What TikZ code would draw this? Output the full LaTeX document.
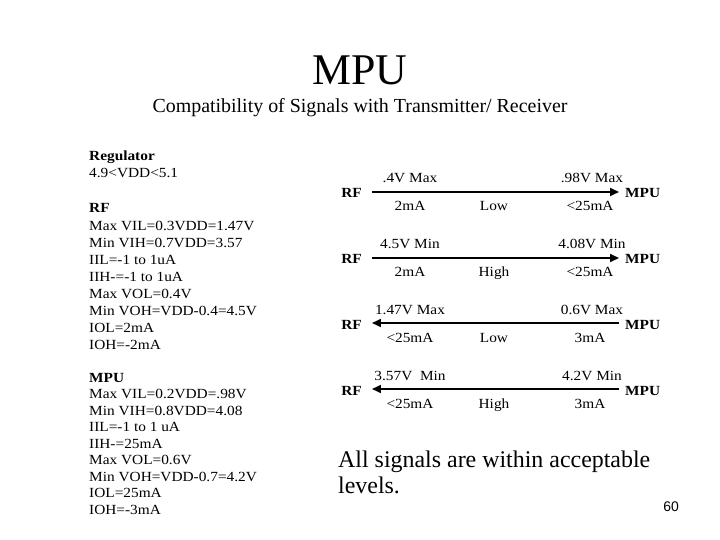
\documentclass[tikz,border=0pt]{standalone}
\usepackage{fontspec}
\setmainfont{Liberation Serif}
\newfontfamily\widef[FakeStretch=1.1]{Liberation Serif}
\newfontfamily\sansf{Liberation Sans}
\usetikzlibrary{arrows.meta}
\begin{document}
\begin{tikzpicture}[x=1bp,y=-1bp,
  lbl/.style={inner sep=0pt,anchor=base,font=\widef\fontsize{14}{15}\selectfont},
  end/.style={inner sep=0pt,font=\widef\fontsize{14}{15}\selectfont\bfseries},
  sig/.style={line width=1.6pt,-{Triangle[length=9pt,width=8pt]}},
  col/.style={inner sep=0pt,anchor=base west,font=\widef\fontsize{14}{17}\selectfont}]
\useasboundingbox (0,0) rectangle (720,540);
\node[inner sep=0pt,font=\fontsize{44}{48}\selectfont] (title) at (360,70) {MPU};
\node[inner sep=0pt,font=\fontsize{20}{24}\selectfont] (sub) at (360,108) {Compatibility of Signals with Transmitter/ Receiver};
\node[col] (reg) at (89,161) {\textbf{Regulator}};
\node[col] (regv) at (89,178) {4.9<VDD<5.1};
\node[col] (rfh) at (89,213) {\textbf{RF}};
\foreach \t [count=\k] in {Max VIL=0.3VDD=1.47V,Min VIH=0.7VDD=3.57,IIL=-1 to 1uA,IIH-=-1 to 1uA,Max VOL=0.4V,Min VOH=VDD-0.4=4.5V,IOL=2mA,IOH=-2mA}
  \node[col] (rfl\k) at (89,213+17.1*\k) {\t};
\node[col] (mph) at (89,382) {\textbf{MPU}};
\foreach \t [count=\k] in {Max VIL=0.2VDD=.98V,Min VIH=0.8VDD=4.08,IIL=-1 to 1 uA,IIH-=25mA,Max VOL=0.6V,Min VOH=VDD-0.7=4.2V,IOL=25mA,IOH=-3mA}
  \node[col] (mpl\k) at (89,382+16.5*\k) {\t};
% rows
\foreach \i/\y/\a/\b/\c/\d/\e in {1/192/.4V Max/.98V Max/2mA/Low/<25mA,2/258/4.5V Min/4.08V Min/2mA/High/<25mA,3/323/1.47V Max/0.6V Max/<25mA/Low/3mA,4/389/3.57V\ \ Min/4.2V Min/<25mA/High/3mA}{
  \node[end,anchor=base east] (rf\i) at (362,\y+6) {RF};
  \node[end,anchor=base west] (mp\i) at (625,\y+6) {MPU};
  \coordinate (l\i) at (372,\y);
  \coordinate (r\i) at (619,\y);
  \node[lbl] (a\i) at (410,\y-9) {\a};
  \node[lbl] (b\i) at (592,\y-9) {\b};
  \node[lbl] (c\i) at (410,\y+19) {\c};
  \node[lbl] (d\i) at (494,\y+19) {\d};
  \node[lbl] (e\i) at (590,\y+19) {\e};
}
\draw[sig] (l1) -- (r1);
\draw[sig] (l2) -- (r2);
\draw[sig] (r3) -- (l3);
\draw[sig] (r4) -- (l4);
\node[inner sep=0pt,anchor=north west,align=left,font=\fontsize{24}{26}\selectfont] (all) at (338,451) {All signals are within acceptable\\levels.};
\node[inner sep=0pt,font=\sansf\fontsize{14}{16}\selectfont] (pg) at (671,507) {60};
\end{tikzpicture}
\end{document}
